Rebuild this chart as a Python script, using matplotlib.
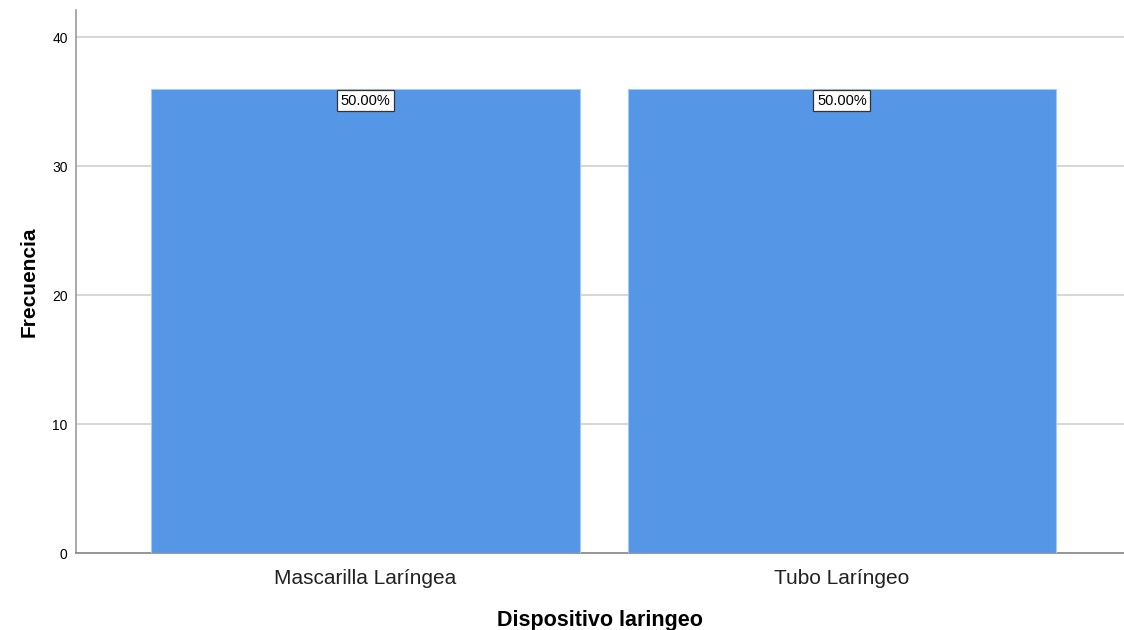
import matplotlib.pyplot as plt

plt.rcParams['font.family'] = ['Liberation Sans', 'DejaVu Sans']

# datos
categorias = ['Mascarilla Laríngea', 'Tubo Laríngeo']
frecuencias = [36, 36]
porcentajes = ['50.00%', '50.00%']

fig = plt.figure(figsize=(11.24, 6.30), dpi=100)
ax = fig.add_axes([0.0676, 0.1222, 0.9324, 0.8619])

x = range(len(categorias))
bars = ax.bar(x, frecuencias, width=0.9, color='#5596E6', edgecolor='#A9C8F0', linewidth=0.8, zorder=3)

for b, p in zip(bars, porcentajes):
    ax.annotate(p, (b.get_x() + b.get_width() / 2, b.get_height()),
                xytext=(0, -3.5), textcoords='offset points', ha='center', va='top',
                fontsize=10.5, zorder=5,
                bbox=dict(boxstyle='square,pad=0.25', fc='white', ec='#333333', lw=0.9))

ax.set_xlim(-0.6075, 1.592)
ax.set_ylim(0, 42.1)
ax.set_yticks([0, 10, 20, 30, 40])
ax.set_xticks(list(x))
ax.set_xticklabels(categorias, fontsize=15, color='#222222')
ax.tick_params(axis='y', labelsize=10, length=0, pad=6)
ax.tick_params(axis='x', length=0, pad=11.5)

ax.yaxis.grid(True, color='#D0D0D0', linewidth=1.2, zorder=0)
ax.spines['top'].set_visible(False)
ax.spines['right'].set_visible(False)
ax.spines['left'].set_color('#999999')
ax.spines['bottom'].set_color('#888888')
ax.spines['left'].set_linewidth(1.2)
ax.spines['bottom'].set_linewidth(1.2)

ax.set_ylabel('Frecuencia', fontsize=15, fontweight='bold', labelpad=10)
ax.set_xlabel('Dispositivo laringeo', fontsize=15.5, fontweight='bold', labelpad=16)

fig.savefig('out.png', dpi=100)
